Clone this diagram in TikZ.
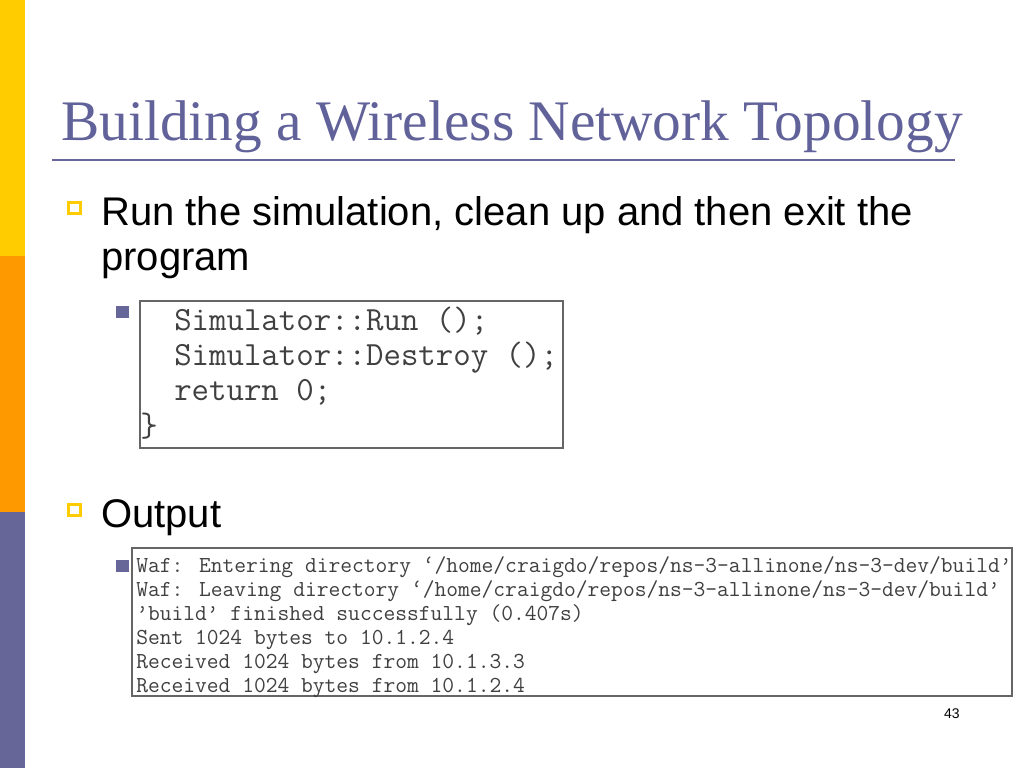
\documentclass[tikz,border=0pt]{standalone}
\usepackage{fontspec}
\setmainfont{Liberation Sans}
\newfontfamily\titlefont{Liberation Serif}
\definecolor{barY}{HTML}{FFCC00}
\definecolor{barO}{HTML}{FF9900}
\definecolor{barP}{HTML}{666699}
\definecolor{titleC}{HTML}{62629A}
\definecolor{codeC}{HTML}{404040}
\tikzset{
  bodytext/.style={anchor=base west, inner sep=0pt, font=\fontsize{30}{36}\selectfont},
  codetext/.style={anchor=base west, inner sep=0pt, text=codeC, font=\ttfamily\fontsize{25.4}{28}\selectfont},
  outtext/.style={anchor=base west, inner sep=0pt, text=codeC, font=\ttfamily\fontsize{17.15}{20}\selectfont},
  sqouter/.style={fill=barY, draw=none},
  sqinner/.style={fill=white, draw=none},
  subsq/.style={fill=barP, draw=none},
  codebox/.style={draw=codeC!80, line width=1pt}
}
\begin{document}
\begin{tikzpicture}[x=0.75pt,y=-0.75pt]
\useasboundingbox (0,0) rectangle (1024,768);
\fill[white] (0,0) rectangle (1024,768);
% side bar
\fill[barY] (0,0) rectangle (25,256);
\fill[barO] (0,256) rectangle (25,512);
\fill[barP] (0,512) rectangle (25,768);
% title
\node[anchor=base west, inner sep=0pt, text=titleC, font=\titlefont\fontsize{43}{48}\selectfont] (title) at (61,140) {Building a Wireless Network Topology};
\draw[barP, line width=1.5pt] (52,160) -- (955,160);
% bullet 1
\fill[sqouter] (67,201) rectangle (82,215);
\fill[sqinner] (70,204) rectangle (79,212);
\node[bodytext] (b1) at (101,225) {Run the simulation, clean up and then exit the};
\node[bodytext] (b1b) at (101,270) {program};
% sub bullet and code box
\fill[subsq] (116,306) rectangle (129,318);
\draw[codebox] (140,301) rectangle (563,448);
\node[codetext] (c1) at (174,330) {Simulator::Run ();};
\node[codetext] (c2) at (174,365) {Simulator::Destroy ();};
\node[codetext] (c3) at (174,400) {return 0;};
\node[codetext] (c4) at (140,436) {\}};
% bullet 2
\fill[sqouter] (67,503) rectangle (82,517);
\fill[sqinner] (70,506) rectangle (79,514);
\node[bodytext] (b2) at (101,527) {Output};
% sub bullet and output box
\fill[subsq] (116,560) rectangle (129,572);
\draw[codebox] (132,548) rectangle (1012,696);
\node[outtext] (o1) at (136,572) {Waf: Entering directory ‘/home/craigdo/repos/ns-3-allinone/ns-3-dev/build’};
\node[outtext] (o2) at (136,596) {Waf: Leaving directory ‘/home/craigdo/repos/ns-3-allinone/ns-3-dev/build’};
\node[outtext] (o3) at (136,620) {’build’ finished successfully (0.407s)};
\node[outtext] (o4) at (136,644) {Sent 1024 bytes to 10.1.2.4};
\node[outtext] (o5) at (136,668) {Received 1024 bytes from 10.1.3.3};
\node[outtext] (o6) at (136,692) {Received 1024 bytes from 10.1.2.4};
% page number
\node[anchor=base east, inner sep=0pt, font=\fontsize{10.5}{12}\selectfont] (pg) at (960,718) {43};
\end{tikzpicture}
\end{document}
